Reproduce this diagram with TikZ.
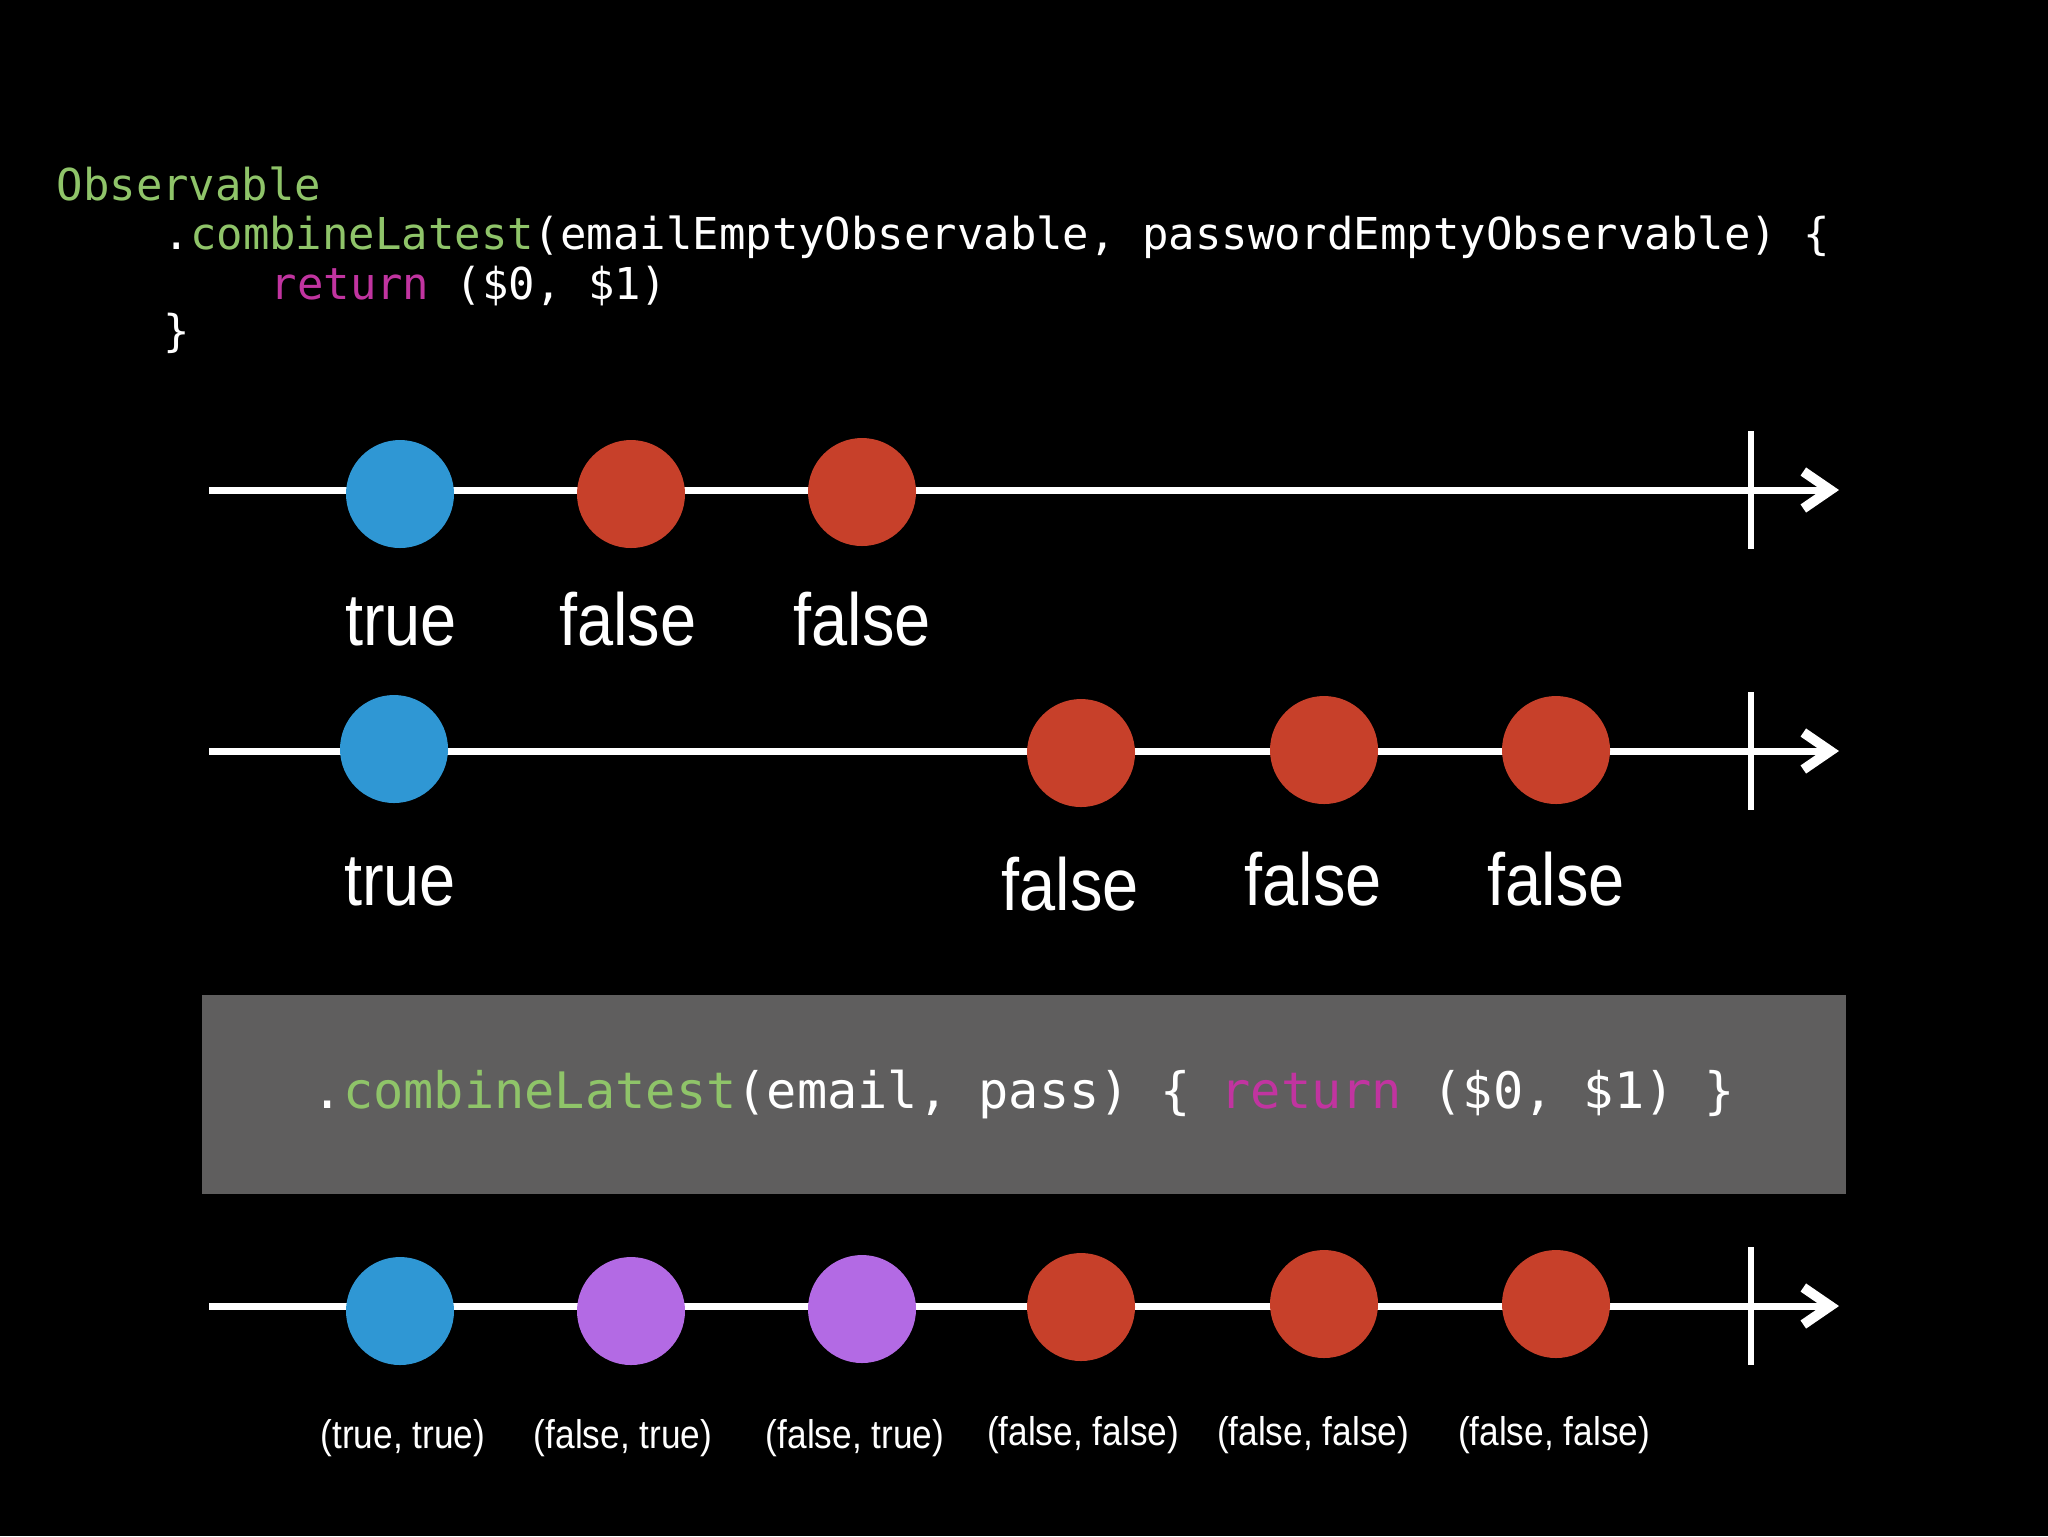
\documentclass[tikz,border=0pt]{standalone}
\usepackage{fontspec}
\setmonofont{DejaVu Sans Mono}
\newfontfamily\lblfont[FakeStretch=0.88]{Liberation Sans}
\usepackage{xcolor}
\usetikzlibrary{arrows.meta,positioning,calc}

\definecolor{codegreen}{RGB}{143,196,105}
\definecolor{codepink}{RGB}{193,52,160}
\definecolor{boxgray}{RGB}{95,94,94}
\definecolor{dotblue}{RGB}{47,151,212}
\definecolor{dotred}{RGB}{199,64,42}
\definecolor{dotpurple}{RGB}{179,106,228}

\tikzset{
	timeline/.style={draw=white,line width=2pt,-{Straight Barb[length=2.7mm,width=3.7mm,line width=2.8pt]}},
	endtick/.style={draw=white,line width=1.9pt},
	marble/.style={circle,minimum size=10.8mm,inner sep=0pt},
	biglbl/.style={text=white,font=\lblfont\fontsize{21}{25}\selectfont,anchor=base,inner sep=0pt},
	smalllbl/.style={text=white,font=\lblfont\fontsize{11.4}{14}\selectfont,anchor=base,inner sep=0pt},
	code/.style={text=white,font=\ttfamily\fontsize{12.5}{15}\selectfont,anchor=base west,inner sep=0pt},
	opbox/.style={fill=boxgray,minimum width=164.4mm,minimum height=19.9mm,inner sep=0pt,
		text=white,font=\ttfamily\fontsize{14.3}{17}\selectfont}
}

\begin{document}
\begin{tikzpicture}[x=0.1mm,y=-0.1mm]
	% background
	\fill[black] (0,0) rectangle (2048,1536);
	
	% code
	\node[code] (obs) at (56,200) {\textcolor{codegreen}{Observable}};
	\node[code] (comb) at (163,249) {.\textcolor{codegreen}{combineLatest}(emailEmptyObservable, passwordEmptyObservable) \{};
	\node[code] (ret) at (270,299) {\textcolor{codepink}{return} (\$0, \$1)};
	\node[code] (close) at (163,346) {\}};
	
	% first timeline
	\coordinate (a1) at (209,490);
	\coordinate (b1) at (1839,490);
	\coordinate (t1u) at (1751,431);
	\coordinate (t1d) at (1751,549);
	\draw[timeline] (a1) -- (b1);
	\draw[endtick] (t1u) -- (t1d);
	
	\node[marble,fill=dotblue] (m11) at (400,494) {};
	\node[marble,fill=dotred] (m12) at (631,494) {};
	\node[marble,fill=dotred] (m13) at (862,492) {};
	
	\node[biglbl] (l11) at (401,645) {true};
	\node[biglbl] (l12) at (628,645) {false};
	\node[biglbl] (l13) at (862,645) {false};
	
	% second timeline
	\coordinate (a2) at (209,751);
	\coordinate (b2) at (1839,751);
	\coordinate (t2u) at (1751,692);
	\coordinate (t2d) at (1751,810);
	\draw[timeline] (a2) -- (b2);
	\draw[endtick] (t2u) -- (t2d);
	
	\node[marble,fill=dotblue] (m21) at (394,749) {};
	\node[marble,fill=dotred] (m22) at (1081,753) {};
	\node[marble,fill=dotred] (m23) at (1324,750) {};
	\node[marble,fill=dotred] (m24) at (1556,750) {};
	
	\node[biglbl] (l21) at (400,905) {true};
	\node[biglbl] (l22) at (1070,910) {false};
	\node[biglbl] (l23) at (1313,905) {false};
	\node[biglbl] (l24) at (1556,905) {false};
	
	% operator box
	\node[opbox] (op) at (1024,1094) {.\textcolor{codegreen}{combineLatest}(email, pass) \{ \textcolor{codepink}{return} (\$0, \$1) \}};
	
	% result timeline
	\coordinate (a3) at (209,1306);
	\coordinate (b3) at (1839,1306);
	\coordinate (t3u) at (1751,1247);
	\coordinate (t3d) at (1751,1365);
	\draw[timeline] (a3) -- (b3);
	\draw[endtick] (t3u) -- (t3d);
	
	\node[marble,fill=dotblue] (m31) at (400,1311) {};
	\node[marble,fill=dotpurple] (m32) at (631,1311) {};
	\node[marble,fill=dotpurple] (m33) at (862,1309) {};
	\node[marble,fill=dotred] (m34) at (1081,1307) {};
	\node[marble,fill=dotred] (m35) at (1324,1304) {};
	\node[marble,fill=dotred] (m36) at (1556,1304) {};
	
	\node[smalllbl] (l31) at (403,1448) {(true, true)};
	\node[smalllbl] (l32) at (623,1448) {(false, true)};
	\node[smalllbl] (l33) at (855,1448) {(false, true)};
	\node[smalllbl] (l34) at (1083,1445) {(false, false)};
	\node[smalllbl] (l35) at (1313,1445) {(false, false)};
	\node[smalllbl] (l36) at (1554,1445) {(false, false)};
\end{tikzpicture}
\end{document}
